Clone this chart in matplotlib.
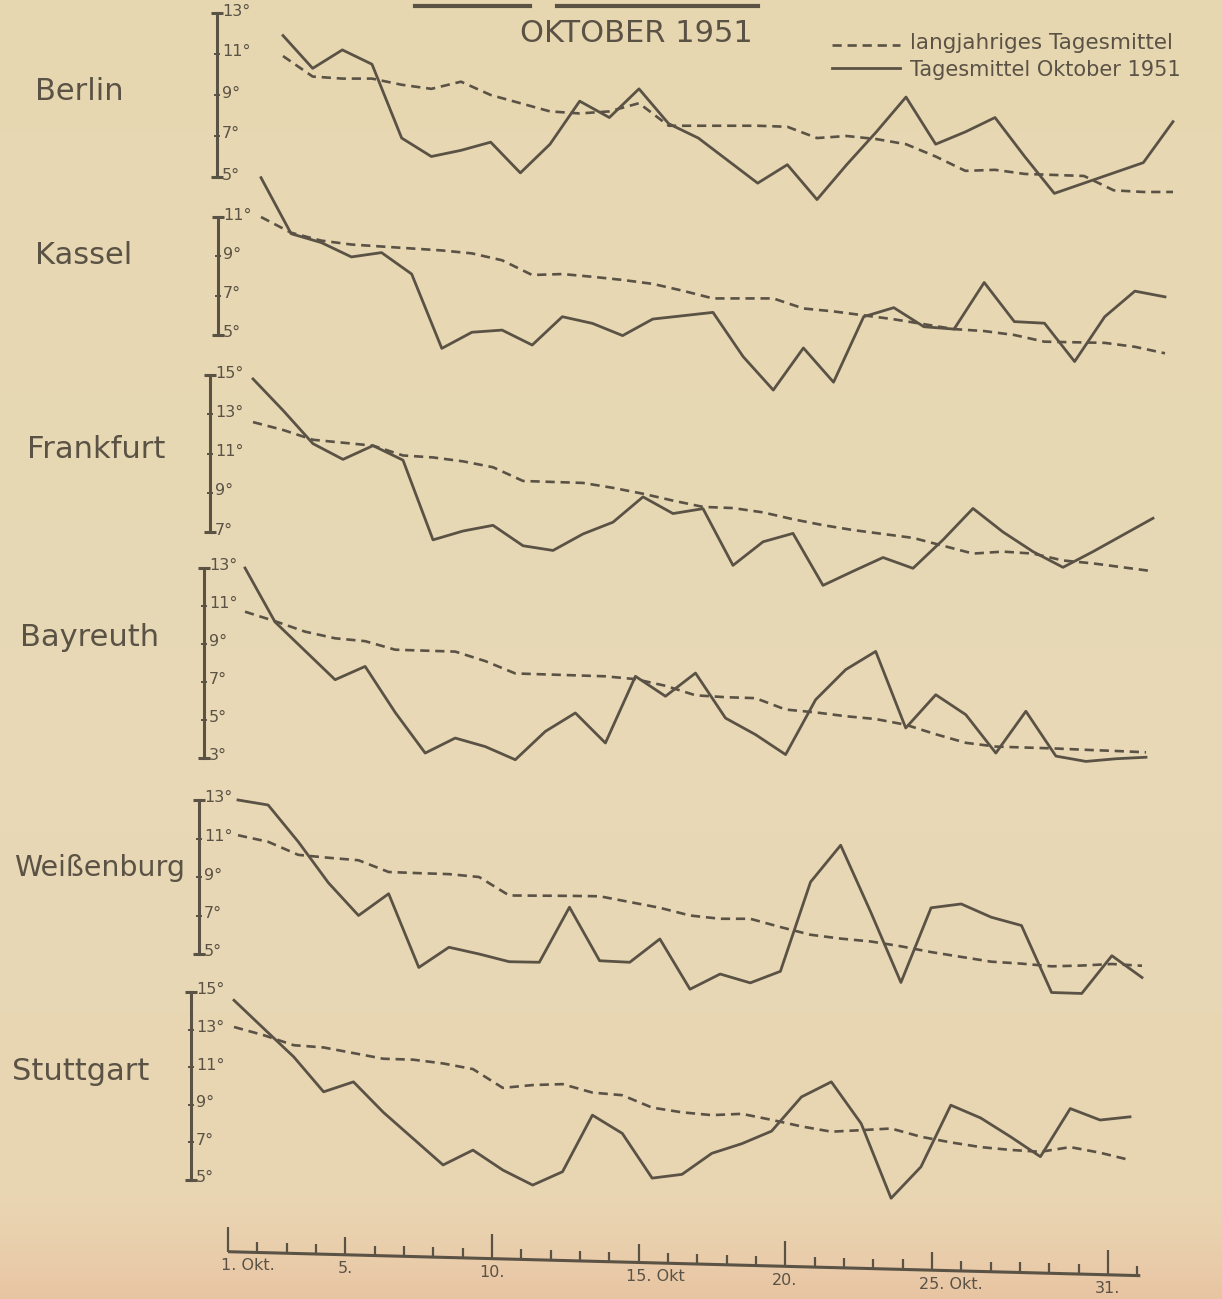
import numpy as np
import matplotlib.pyplot as plt
import matplotlib.transforms as mtransforms
from matplotlib.colors import to_rgb

# Daily values, October 1951 (°C)
days = np.arange(1, 32)

stations = ['Berlin', 'Kassel', 'Frankfurt', 'Bayreuth', 'Weißenburg', 'Stuttgart']

berlin_mean = [10.9, 9.9, 9.8, 9.8, 9.5, 9.3, 9.65, 9.0, 8.6, 8.2, 8.1, 8.2, 8.6, 7.5, 7.5, 7.5,
               7.5, 7.45, 6.9, 7.0, 6.85, 6.6, 6.0, 5.3, 5.35, 5.15, 5.1, 5.05, 4.35, 4.27, 4.27]
berlin_1951 = [11.9, 10.3, 11.2, 10.5, 6.9, 6.0, 6.3, 6.7, 5.2, 6.6, 8.7, 7.9, 9.3, 7.6, 6.9, 5.8,
               4.7, 5.6, 3.9, 5.6, 7.2, 8.9, 6.6, 7.2, 7.9, 6.0, 4.2, 4.7, 5.2, 5.7, 7.7]

kassel_mean = [11.0, 10.2, 9.8, 9.6, 9.5, 9.4, 9.3, 9.15, 8.8, 8.05, 8.1, 7.96, 7.8, 7.6, 7.25, 6.86,
               6.86, 6.86, 6.35, 6.2, 6.0, 5.8, 5.55, 5.3, 5.2, 5.0, 4.66, 4.63, 4.6, 4.4, 4.07]
kassel_1951 = [13.0, 10.15, 9.7, 8.97, 9.19, 8.1, 4.32, 5.14, 5.25, 4.49, 5.93, 5.59, 4.97, 5.81, 5.98, 6.15,
               3.9, 2.2, 4.34, 2.6, 5.93, 6.39, 5.42, 5.3, 7.67, 5.68, 5.6, 3.65, 5.93, 7.23, 6.94]

frankfurt_mean = [12.6, 12.2, 11.7, 11.55, 11.4, 10.9, 10.8, 10.6, 10.3, 9.6, 9.55, 9.5, 9.25, 8.95, 8.6, 8.28,
                  8.22, 8.0, 7.65, 7.35, 7.1, 6.9, 6.7, 6.3, 5.9, 6.0, 5.9, 5.55, 5.4, 5.2, 5.0]
frankfurt_1951 = [14.8, 13.2, 11.5, 10.7, 11.4, 10.66, 6.6, 7.05, 7.34, 6.3, 6.06, 6.9, 7.5, 8.79, 7.94, 8.19,
                  5.3, 6.5, 6.93, 4.28, 5.0, 5.7, 5.15, 6.6, 8.2, 7.0, 6.0, 5.2, 6.0, 6.85, 7.7]

bayreuth_mean = [10.7, 10.2, 9.65, 9.3, 9.15, 8.7, 8.65, 8.6, 8.1, 7.45, 7.4, 7.35, 7.3, 7.15, 6.8, 6.3,
                 6.2, 6.15, 5.55, 5.4, 5.2, 5.05, 4.75, 4.25, 3.8, 3.6, 3.55, 3.5, 3.43, 3.37, 3.3]
bayreuth_1951 = [13.0, 10.16, 8.64, 7.12, 7.82, 5.4, 3.26, 4.05, 3.6, 2.91, 4.4, 5.37, 3.79, 7.3, 6.25, 7.47,
                 5.1, 4.23, 3.18, 6.07, 7.65, 8.61, 4.58, 6.33, 5.28, 3.26, 5.46, 3.1, 2.82, 2.96, 3.04]

weissenburg_mean = [11.17, 10.83, 10.15, 10.0, 9.87, 9.26, 9.2, 9.15, 9.0, 8.04, 8.03, 8.02, 8.0, 7.7, 7.4, 7.0,
                    6.83, 6.83, 6.4, 6.0, 5.8, 5.65, 5.4, 5.1, 4.85, 4.6, 4.5, 4.36, 4.4, 4.48, 4.39]
weissenburg_1951 = [13.0, 12.74, 10.83, 8.7, 7.0, 8.13, 4.3, 5.35, 5.0, 4.6, 4.57, 7.43, 4.65, 4.57, 5.78, 3.17,
                    3.96, 3.5, 4.1, 8.74, 10.65, 7.17, 3.52, 7.4, 7.6, 6.91, 6.48, 3.0, 2.95, 4.91, 3.78]

stuttgart_mean = [13.14, 12.7, 12.17, 12.05, 11.75, 11.45, 11.4, 11.2, 10.9, 9.9, 10.05, 10.1, 9.65, 9.51, 8.85, 8.6,
                  8.45, 8.52, 8.2, 7.85, 7.57, 7.65, 7.74, 7.3, 7.0, 6.75, 6.6, 6.5, 6.75, 6.45, 6.06]
stuttgart_1951 = [14.56, 13.05, 11.55, 9.69, 10.22, 8.6, 7.2, 5.8, 6.59, 5.53, 4.73, 5.44, 8.45, 7.48, 5.1, 5.3,
                  6.42, 6.93, 7.6, 9.42, 10.22, 8.0, 4.03, 5.7, 8.98, 8.3, 7.3, 6.24, 8.8, 8.19, 8.36]

means = [berlin_mean, kassel_mean, frankfurt_mean, bayreuth_mean, weissenburg_mean, stuttgart_mean]
oct51 = [berlin_1951, kassel_1951, frankfurt_1951, bayreuth_1951, weissenburg_1951, stuttgart_1951]

# y-axis scale values of each panel
scales = [[5, 7, 9, 11, 13], [5, 7, 9, 11], [7, 9, 11, 13, 15],
          [3, 5, 7, 9, 11, 13], [5, 7, 9, 11, 13], [5, 7, 9, 11, 13, 15]]

# bottom day scale
day_ticks = [1, 5, 10, 15, 20, 25, 31]
day_labels = ['1. Okt.', '5.', '10.', '15. Okt', '20.', '25. Okt.', '31.']

# ---- layout (pixels of the 1222 x 1299 sheet) ----
W, H = 1222, 1299
# spine x, top-tick y, bottom-tick y, x of day 1, x of day 31, name x, name y, name size
layout = [
    (217, 13, 177, 283, 1173, 35, 92, 22),
    (218, 217, 335, 261, 1165, 35, 255, 22),
    (210, 375, 532, 253, 1153, 27, 450, 22),
    (204, 568, 758, 245, 1146, 20, 638, 22),
    (199, 800, 954, 238, 1142, 14, 868, 20.5),
    (191, 992, 1180, 234, 1130, 12, 1072, 22),
]
right_px = 1200

ink = '#5a5245'
paper = '#e7d7b1'

fig = plt.figure(figsize=(W / 100, H / 100), dpi=100)
fig.patch.set_facecolor(paper)

# paper tint: slightly pinkish towards the bottom edge
bg = fig.add_axes([0, 0, 1, 1], zorder=-10)
stops = [(0.0, '#e7d7b1'), (0.5, '#e8d9b6'), (0.92, '#e9d6b3'), (0.97, '#eacdab'), (1.0, '#e8c4a2')]
rows = np.linspace(0, 1, H)
grad = np.zeros((H, 1, 3))
for c in range(3):
    grad[:, 0, c] = np.interp(rows, [s[0] for s in stops], [to_rgb(s[1])[c] for s in stops])
bg.imshow(grad, aspect='auto', extent=[0, 1, 1, 0])
bg.set_axis_off()

for name, m, o, ticks, (sx, yt, yb, x1, x31, nx, ny, nfs) in zip(stations, means, oct51, scales, layout):
    ax = fig.add_axes([sx / W, 1 - yb / H, (right_px - sx) / W, (yb - yt) / H])
    ax.patch.set_alpha(0)
    ppd = (x31 - x1) / 30
    ax.set_xlim(1 - (x1 - sx) / ppd, 31 + (right_px - x31) / ppd)
    ax.set_ylim(ticks[0], ticks[-1])

    ax.plot(days, m, color=ink, lw=1.9, dashes=(3.5, 2.2), clip_on=False)
    ax.plot(days, o, color=ink, lw=2.0, clip_on=False)

    for s in ['top', 'right', 'bottom']:
        ax.spines[s].set_visible(False)
    ax.spines['left'].set_color(ink)
    ax.spines['left'].set_linewidth(2.2)
    ax.set_xticks([])
    ax.set_yticks(ticks)
    ax.tick_params(axis='y', direction='inout', length=5, width=1.4, color=ink, labelleft=False)

    ytr = ax.get_yaxis_transform()
    ax.plot([0, 0], [ticks[0], ticks[-1]], ls='none', marker='_', ms=8, mew=2.2,
            color=ink, transform=ytr, clip_on=False)
    lab_tr = mtransforms.offset_copy(ytr, fig=fig, x=5, y=2, units='dots')
    for v in ticks:
        ax.text(0, v, f'{v}°', transform=lab_tr, ha='left', va='center',
                fontsize=11.5, color=ink)

    fig.text(nx / W, 1 - ny / H, name, ha='left', va='center', fontsize=nfs, color=ink)

# ---- day scale at the bottom ----
bx1, bx31 = 228, 1108
bppd = (bx31 - bx1) / 30
axd = fig.add_axes([200 / W, 0, (1170 - 200) / W, 75 / H])
axd.patch.set_alpha(0)
axd.set_xlim(1 - (bx1 - 200) / bppd, 31 + (1170 - bx31) / bppd)
axd.set_ylim(H, H - 75)
axd.set_axis_off()

base0, slope = 1251.7, 0.77
line_days = np.array([1, 32.1])
axd.plot(line_days, base0 + slope * (line_days - 1), color=ink, lw=2.2, solid_capstyle='butt')
all_days = np.arange(1, 33)
heights = np.where(np.isin(all_days, [1, 10, 20, 31]), 25,
                   np.where(np.isin(all_days, [5, 15, 25]), 18, 10))
base = base0 + slope * (all_days - 1)
axd.vlines(all_days, base, base - heights, color=ink, lw=1.6)

for d, lab in zip(day_ticks, day_labels):
    num = lab.split('.')[0]
    axd.annotate(lab, (d, base0 + slope * (d - 1) + 14), textcoords='offset points',
                 xytext=(-4.2 * len(num) - 1, 0), ha='left', va='center',
                 fontsize=11.5, color=ink)

# ---- title and legend ----
fig.text(636 / W, 1 - 33 / H, 'OKTOBER 1951', ha='center', va='center', fontsize=22, color=ink)
# underlines of the cut-off heading above
fig.add_artist(plt.Line2D([415 / W, 530 / W], [1 - 6 / H, 1 - 6 / H], color=ink, lw=3))
fig.add_artist(plt.Line2D([557 / W, 758 / W], [1 - 6 / H, 1 - 6 / H], color=ink, lw=3))

fig.add_artist(plt.Line2D([832 / W, 900 / W], [1 - 45 / H, 1 - 45 / H], color=ink, lw=1.9,
                          dashes=(3.5, 2.2)))
fig.add_artist(plt.Line2D([832 / W, 900 / W], [1 - 68 / H, 1 - 68 / H], color=ink, lw=2.0))
fig.text(910 / W, 1 - 43 / H, 'langjahriges Tagesmittel', ha='left', va='center',
         fontsize=15.5, color=ink)
fig.text(910 / W, 1 - 70 / H, 'Tagesmittel Oktober 1951', ha='left', va='center',
         fontsize=15, color=ink)

plt.savefig('out.png', dpi=100, facecolor=fig.get_facecolor())
